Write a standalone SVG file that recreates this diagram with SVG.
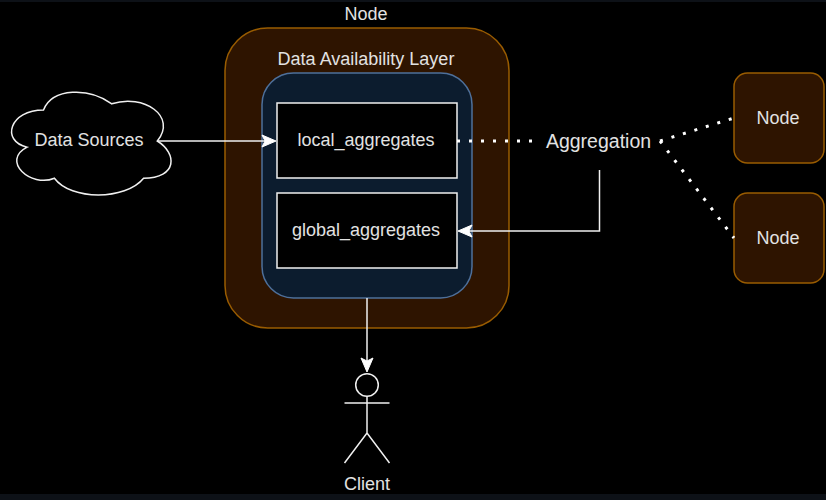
<svg xmlns="http://www.w3.org/2000/svg" width="826" height="500" viewBox="0 0 826 500">
<style>
text{font-family:"Liberation Sans",Arial,sans-serif;font-size:18px;fill:#e2e2e2;text-anchor:middle}
.w{fill:none;stroke:#f0f0f0;stroke-width:1.5}
.b{fill:#000;stroke:#f0f0f0;stroke-width:1.5}
.n{fill:#2e1400;stroke:#995c00;stroke-width:1.5}
.d{fill:none;stroke:#fff;stroke-width:3;stroke-dasharray:3 9}
.a{fill:#fff;stroke:#fff}
</style>
<rect width="826" height="500" fill="#000"/>
<rect width="826" height="2" fill="#0d1117"/>
<rect y="494" width="826" height="6" fill="#0d1117"/>
<g id="node-main">
<rect class="n" x="225" y="28" width="284" height="300" rx="42.6"/>
<text x="366" y="20">Node</text>
</g>
<g id="data-availability-layer">
<rect x="262" y="73" width="210" height="225" rx="31.5" fill="#0c1c2e" stroke="#4e709b" stroke-width="1.5"/>
<text x="366" y="65">Data Availability Layer</text>
</g>
<g id="local-aggregates">
<rect class="b" x="277" y="103" width="180" height="75"/>
<text x="366" y="146">local_aggregates</text>
</g>
<g id="global-aggregates">
<rect class="b" x="277" y="193" width="180" height="75"/>
<text x="366" y="236">global_aggregates</text>
</g>
<g id="data-sources">
<path class="b" d="M43.500 110C9.500 110 0.500 141 27.100 147.200C0.500 160.800 30.800 188 54.400 178.200C70.800 200.500 125.400 200.500 143.600 178.200C177.500 178.200 177.500 153.400 157.300 141C177.500 116.200 143.600 93.500 111.800 103.800C89 87.500 52.600 87.500 43.500 110Z"/>
<text x="89" y="146">Data Sources</text>
</g>
<g id="aggregation">
<text x="598.500" y="148" style="font-size:19.5px">Aggregation</text>
</g>
<g id="node-top">
<rect class="n" x="734" y="73" width="90" height="90" rx="13.500"/>
<text x="778" y="124">Node</text>
</g>
<g id="node-bottom">
<rect class="n" x="734" y="193" width="90" height="90" rx="13.500"/>
<text x="778" y="244">Node</text>
</g>
<g id="client">
<circle class="w" cx="367" cy="385" r="11.300"/>
<path class="w" d="M367 396V433M344.500 403H389.500M344.500 463L367 433L389.500 463"/>
<text x="367" y="490">Client</text>
</g>
<g id="connectors">
<path class="w" d="M157 141H268"/>
<path class="a" d="M276 141L262 147L265 141L262 135Z"/>
<path class="w" d="M599.500 170V231H466"/>
<path class="a" d="M458 231L472 225L469 231L472 237Z"/>
<path class="w" d="M367 298V364"/>
<path class="a" d="M367 372L361 358L367 361L373 358Z"/>
<path class="d" d="M457 141H540"/>
<path class="d" d="M660 141L734 118"/>
<path class="d" d="M660 141L734 238"/>
</g>
</svg>
